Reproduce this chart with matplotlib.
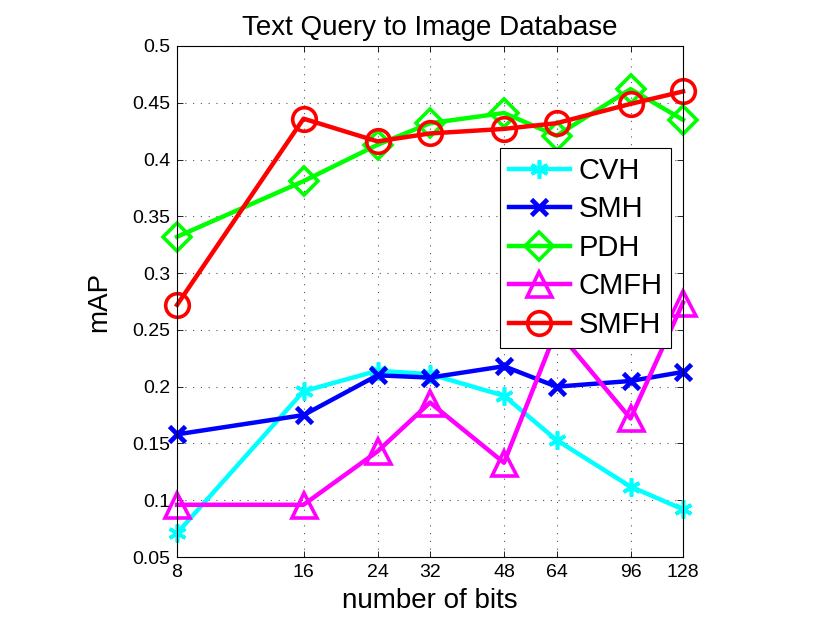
import matplotlib.pyplot as plt
from matplotlib.ticker import NullLocator

plt.rcParams['font.family'] = ['Liberation Sans', 'DejaVu Sans']

# Data
bits = [8, 16, 24, 32, 48, 64, 96, 128]
cvh = [0.071, 0.196, 0.214, 0.211, 0.192, 0.153, 0.112, 0.092]
smh = [0.158, 0.175, 0.210, 0.208, 0.218, 0.200, 0.205, 0.213]
pdh = [0.332, 0.381, 0.413, 0.432, 0.441, 0.421, 0.462, 0.435]
cmfh = [0.096, 0.096, 0.143, 0.186, 0.133, 0.250, 0.172, 0.274]
smfh = [0.272, 0.436, 0.416, 0.423, 0.427, 0.432, 0.449, 0.460]

yticks = [0.05, 0.1, 0.15, 0.2, 0.25, 0.3, 0.35, 0.4, 0.45, 0.5]
ytick_labels = ['0.05', '0.1', '0.15', '0.2', '0.25', '0.3', '0.35', '0.4', '0.45', '0.5']

fig = plt.figure(figsize=(8.3, 6.25), dpi=100)
ax = fig.add_axes([0.2133, 0.1088, 0.6096, 0.8176])

lw = 3.2
mew = 2.6
common = dict(lw=lw, mew=mew, clip_on=False)
ax.plot(bits, cvh, color='cyan', marker=(6, 2, 0), ms=13, label='CVH', **common)
ax.plot(bits, smh, color='blue', marker='x', ms=11, label='SMH',
        lw=lw, mew=3.4, clip_on=False)
ax.plot(bits, pdh, color='lime', marker='D', ms=14, mfc='none', label='PDH', **common)
ax.plot(bits, cmfh, color='magenta', marker='^', ms=18, mfc='none', label='CMFH', **common)
ax.plot(bits, smfh, color='red', marker='o', ms=17, mfc='none', label='SMFH', **common)

ax.set_xscale('log', base=2)
ax.set_xlim(8, 128)
ax.set_xticks(bits)
ax.set_xticklabels([str(b) for b in bits])
ax.xaxis.set_minor_locator(NullLocator())
ax.set_ylim(0.05, 0.5)
ax.set_yticks(yticks)
ax.set_yticklabels(ytick_labels)

ax.tick_params(direction='in', length=4, width=0.6, labelsize=14, pad=5,
               top=True, right=True)
ax.grid(True, linestyle=(0, (1, 6)), color='#555555', linewidth=0.8)
for s in ax.spines.values():
    s.set_linewidth(0.8)

ax.set_title('Text Query to Image Database', fontsize=20, pad=8)
ax.set_xlabel('number of bits', fontsize=20, labelpad=5)
ax.set_ylabel('mAP', fontsize=20, labelpad=14)

leg = ax.legend(loc='upper left', bbox_to_anchor=(0.638, 0.80), fontsize=21,
                fancybox=False, framealpha=1, edgecolor='black', handlelength=2.1,
                borderpad=0.3, labelspacing=0.36, handletextpad=0.3, borderaxespad=0)
leg.get_frame().set_linewidth(0.8)
leg.set_zorder(5)

fig.savefig('out.png', dpi=100)
